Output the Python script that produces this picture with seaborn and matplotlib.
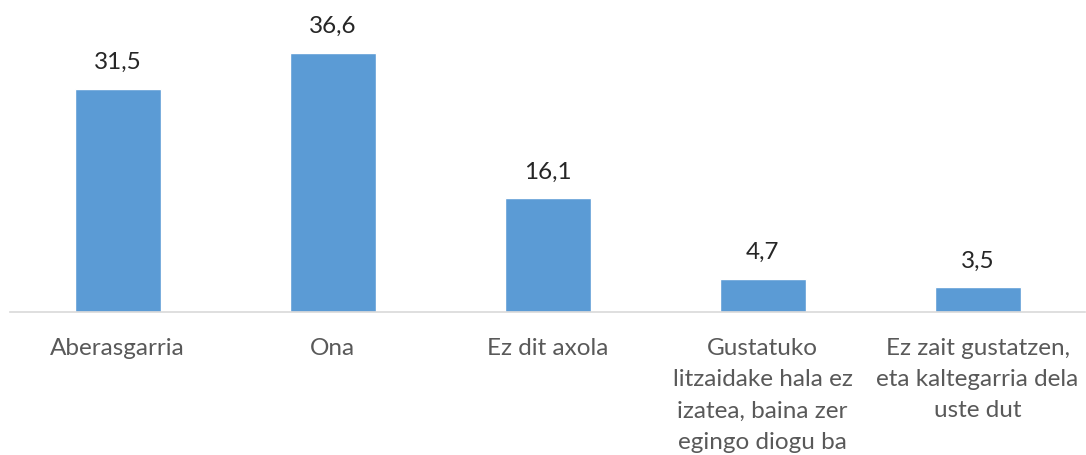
import matplotlib
matplotlib.use("Agg")
import matplotlib.pyplot as plt
import seaborn as sns
import pandas as pd

categories = [
    "Aberasgarria",
    "Ona",
    "Ez dit axola",
    "Gustatuko\nlitzaidake hala ez\nizatea, baina zer\negingo diogu ba",
    "Ez zait gustatzen,\neta kaltegarria dela\nuste dut",
]
values = [31.5, 36.6, 16.1, 4.7, 3.5]

sns.set_theme(style="white")
plt.rcParams["font.family"] = ["Lato", "DejaVu Sans"]

df = pd.DataFrame({"cat": categories, "val": values})

fig = plt.figure(figsize=(10.86, 4.56), dpi=100)
ax = fig.add_axes([10 / 1086, 1 - 313 / 456, 1075 / 1086, 313 / 456])

sns.barplot(data=df, x="cat", y="val", color="#5B9BD5", saturation=1,
            width=0.4, ax=ax)

ax.set_xlim(-0.5, 4.5)
ax.set_ylim(0, 313 / 7.08)
ax.set_xlabel("")
ax.set_ylabel("")
ax.set_yticks([])
for s in ["top", "right", "left"]:
    ax.spines[s].set_visible(False)
ax.spines["bottom"].set_color("#D9D9D9")
ax.spines["bottom"].set_linewidth(1.2)

ax.tick_params(axis="x", length=0, pad=18, labelsize=17.5, labelcolor="#595959")
for t in ax.get_xticklabels():
    t.set_linespacing(1.6)
    t.set_verticalalignment("top")

labels = [f"{v:.1f}".replace(".", ",") for v in values]
ax.bar_label(ax.containers[0], labels=labels, padding=12, fontsize=17.5,
             color="#262626")

fig.savefig("out.png", dpi=100)
